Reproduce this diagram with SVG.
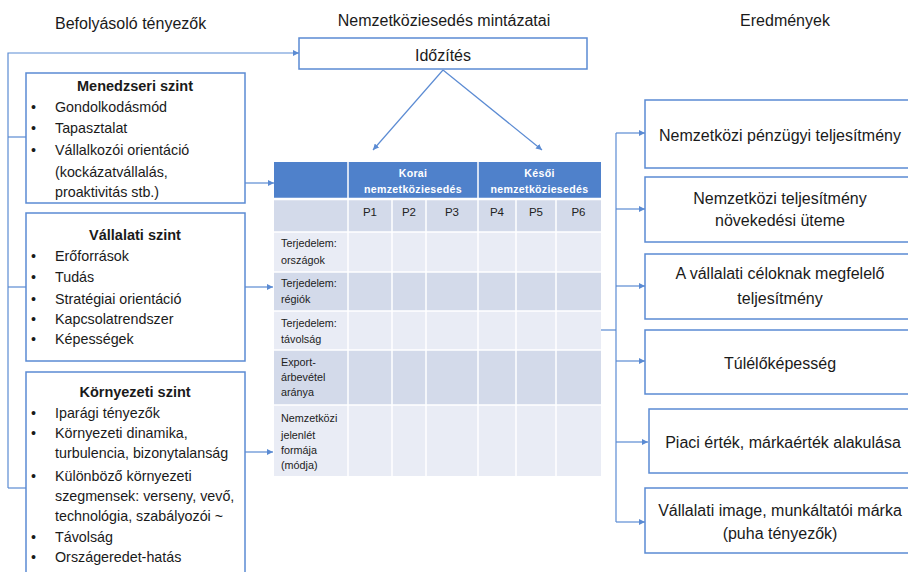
<svg xmlns="http://www.w3.org/2000/svg" width="908" height="572" viewBox="0 0 908 572">
<style>
.t{font-family:"Liberation Sans",Arial,sans-serif;fill:#1a1a1a}
.title{font-size:16px}
.box{fill:#fff;stroke:#5B8BD3;stroke-width:1.5}
.hd{font-size:14.5px;font-weight:bold;text-anchor:middle}
.it{font-size:14.3px}
.rb{font-size:16px;text-anchor:middle}
.con{fill:none;stroke:#5B8BD3;stroke-width:1.2}
.th{font-family:"Liberation Sans",Arial,sans-serif;font-size:10.6px;font-weight:bold;fill:#fff;text-anchor:middle;letter-spacing:0.3px}
.pl{font-family:"Liberation Sans",Arial,sans-serif;font-size:11.5px;fill:#222;text-anchor:middle}
.rl{font-family:"Liberation Sans",Arial,sans-serif;font-size:10.8px;fill:#222}
.dk{fill:#D3DAEA}
.lt{fill:#E9ECF5}
.gl{stroke:#fff;stroke-width:1.5}
</style>
<defs>
<marker id="ah" viewBox="0 0 10 10" refX="10" refY="5" markerWidth="6" markerHeight="6" markerUnits="userSpaceOnUse" orient="auto">
<path d="M0,0 L10,5 L0,10 z" fill="#5B8BD3"/>
</marker>
</defs>
<rect width="908" height="572" fill="#fff"/>

<g id="titles">
<text class="t title" x="55" y="29">Befolyásoló tényezők</text>
<text class="t title" x="444" y="26" text-anchor="middle">Nemzetköziesedés mintázatai</text>
<text class="t title" x="785" y="26" text-anchor="middle">Eredmények</text>
</g>

<g id="connectors">
<polyline class="con" points="8,488 8,53 299,53" marker-end="url(#ah)"/>
<line class="con" x1="8" y1="137" x2="26" y2="137"/>
<line class="con" x1="8" y1="287" x2="26" y2="287"/>
<line class="con" x1="8" y1="488" x2="26" y2="488"/>
<line class="con" x1="245" y1="183" x2="274" y2="183" marker-end="url(#ah)"/>
<line class="con" x1="245" y1="287" x2="273" y2="287" marker-end="url(#ah)"/>
<line class="con" x1="245" y1="452" x2="273" y2="452" marker-end="url(#ah)"/>
<line class="con" x1="443" y1="70" x2="373" y2="150" marker-end="url(#ah)" stroke-width="1"/>
<line class="con" x1="443" y1="70" x2="542" y2="150" marker-end="url(#ah)" stroke-width="1"/>
<line class="con" x1="601" y1="330" x2="616" y2="330"/>
<line class="con" x1="616" y1="133" x2="616" y2="522"/>
<line class="con" x1="616" y1="133" x2="645" y2="133" marker-end="url(#ah)"/>
<line class="con" x1="616" y1="209" x2="645" y2="209" marker-end="url(#ah)"/>
<line class="con" x1="616" y1="286" x2="645" y2="286" marker-end="url(#ah)"/>
<line class="con" x1="616" y1="361" x2="645" y2="361" marker-end="url(#ah)"/>
<line class="con" x1="616" y1="442" x2="648" y2="442" marker-end="url(#ah)"/>
<line class="con" x1="616" y1="522" x2="645" y2="522" marker-end="url(#ah)"/>
</g>

<g id="idozites">
<rect class="box" x="299" y="38" width="288" height="31"/>
<text class="t title" x="443" y="61" text-anchor="middle">Időzítés</text>
</g>

<g id="menedzseri">
<rect class="box" x="26" y="73" width="219" height="130"/>
<text class="t hd" x="135" y="91">Menedzseri szint</text>
<text class="t it" x="31" y="112">•</text><text class="t it" x="55" y="112">Gondolkodásmód</text>
<text class="t it" x="31" y="133">•</text><text class="t it" x="55" y="133">Tapasztalat</text>
<text class="t it" x="31" y="155">•</text><text class="t it" x="55" y="155">Vállalkozói orientáció</text>
<text class="t it" x="55" y="177">(kockázatvállalás,</text>
<text class="t it" x="55" y="197">proaktivitás stb.)</text>
</g>

<g id="vallalati">
<rect class="box" x="26" y="213" width="219" height="148"/>
<text class="t hd" x="135" y="240">Vállalati szint</text>
<text class="t it" x="31" y="261">•</text><text class="t it" x="55" y="261">Erőforrások</text>
<text class="t it" x="31" y="282">•</text><text class="t it" x="55" y="282">Tudás</text>
<text class="t it" x="31" y="304">•</text><text class="t it" x="55" y="304">Stratégiai orientáció</text>
<text class="t it" x="31" y="324">•</text><text class="t it" x="55" y="324">Kapcsolatrendszer</text>
<text class="t it" x="31" y="344">•</text><text class="t it" x="55" y="344">Képességek</text>
</g>

<g id="kornyezeti">
<rect class="box" x="26" y="372" width="219" height="210"/>
<text class="t hd" x="135" y="397">Környezeti szint</text>
<text class="t it" x="31" y="418">•</text><text class="t it" x="55" y="418">Iparági tényezők</text>
<text class="t it" x="31" y="438">•</text><text class="t it" x="55" y="438">Környezeti dinamika,</text>
<text class="t it" x="55" y="458">turbulencia, bizonytalanság</text>
<text class="t it" x="31" y="481">•</text><text class="t it" x="55" y="481">Különböző környezeti</text>
<text class="t it" x="55" y="501">szegmensek: verseny, vevő,</text>
<text class="t it" x="55" y="521">technológia, szabályozói ~</text>
<text class="t it" x="31" y="542">•</text><text class="t it" x="55" y="542">Távolság</text>
<text class="t it" x="31" y="562">•</text><text class="t it" x="55" y="562">Országeredet-hatás</text>
</g>

<g id="table">
<rect x="274" y="162" width="327" height="37" fill="#4F81CB"/>
<rect class="dk" x="274" y="199" width="327" height="33"/>
<rect class="lt" x="274" y="232" width="327" height="40"/>
<rect class="dk" x="274" y="272" width="327" height="39"/>
<rect class="lt" x="274" y="311" width="327" height="39"/>
<rect class="dk" x="274" y="350" width="327" height="55"/>
<rect class="lt" x="274" y="405" width="327" height="71"/>
<g class="gl">
<line x1="348" y1="162" x2="348" y2="476"/>
<line x1="478" y1="162" x2="478" y2="476"/>
<line x1="392" y1="199" x2="392" y2="476"/>
<line x1="426" y1="199" x2="426" y2="476"/>
<line x1="516" y1="199" x2="516" y2="476"/>
<line x1="556" y1="199" x2="556" y2="476"/>
<line x1="274" y1="199" x2="601" y2="199" stroke-width="2.5"/>
<line x1="274" y1="232" x2="601" y2="232"/>
<line x1="274" y1="272" x2="601" y2="272"/>
<line x1="274" y1="311" x2="601" y2="311"/>
<line x1="274" y1="350" x2="601" y2="350"/>
<line x1="274" y1="405" x2="601" y2="405"/>
</g>
<text class="th" x="413" y="177">Korai</text>
<text class="th" x="413" y="193">nemzetköziesedés</text>
<text class="th" x="539.5" y="177">Késői</text>
<text class="th" x="539.5" y="193">nemzetköziesedés</text>
<text class="pl" x="370" y="216">P1</text>
<text class="pl" x="409" y="216">P2</text>
<text class="pl" x="452" y="216">P3</text>
<text class="pl" x="497" y="216">P4</text>
<text class="pl" x="536" y="216">P5</text>
<text class="pl" x="578.5" y="216">P6</text>
<text class="rl" x="281" y="247">Terjedelem:</text>
<text class="rl" x="281" y="264">országok</text>
<text class="rl" x="281" y="287">Terjedelem:</text>
<text class="rl" x="281" y="303">régiók</text>
<text class="rl" x="281" y="327">Terjedelem:</text>
<text class="rl" x="281" y="343">távolság</text>
<text class="rl" x="281" y="366">Export-</text>
<text class="rl" x="281" y="381">árbevétel</text>
<text class="rl" x="281" y="396">aránya</text>
<text class="rl" x="281" y="422">Nemzetközi</text>
<text class="rl" x="281" y="439">jelenlét</text>
<text class="rl" x="281" y="454">formája</text>
<text class="rl" x="281" y="469">(módja)</text>
</g>

<g id="r1">
<rect class="box" x="645" y="100" width="275" height="68"/>
<text class="t rb" x="780" y="141">Nemzetközi pénzügyi teljesítmény</text>
</g>
<g id="r2">
<rect class="box" x="645" y="177" width="275" height="65"/>
<text class="t rb" x="780" y="204">Nemzetközi teljesítmény</text>
<text class="t rb" x="780" y="226">növekedési üteme</text>
</g>
<g id="r3">
<rect class="box" x="645" y="254" width="275" height="65"/>
<text class="t rb" x="780" y="279">A vállalati céloknak megfelelő</text>
<text class="t rb" x="780" y="304">teljesítmény</text>
</g>
<g id="r4">
<rect class="box" x="645" y="330" width="275" height="64"/>
<text class="t rb" x="780" y="369">Túlélőképesség</text>
</g>
<g id="r5">
<rect class="box" x="649" y="409" width="275" height="64"/>
<text class="t rb" x="783" y="448">Piaci érték, márkaérték alakulása</text>
</g>
<g id="r6">
<rect class="box" x="645" y="488" width="275" height="65"/>
<text class="t rb" x="780" y="516">Vállalati image, munkáltatói márka</text>
<text class="t rb" x="780" y="539">(puha tényezők)</text>
</g>
</svg>
